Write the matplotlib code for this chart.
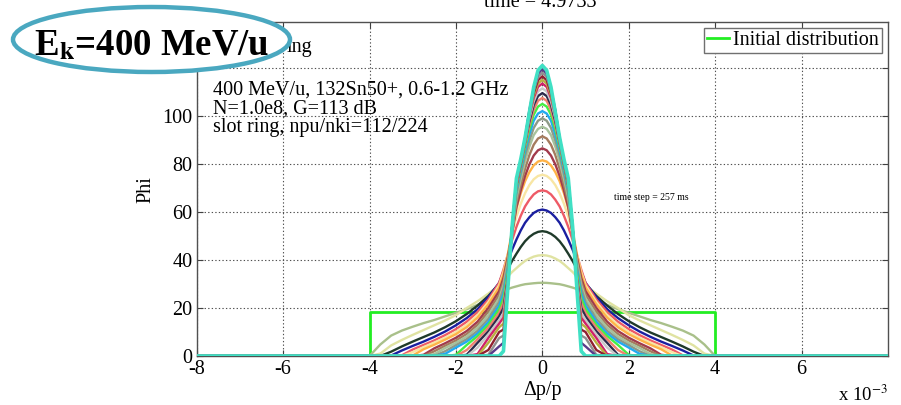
import matplotlib
matplotlib.use('Agg')
import matplotlib.pyplot as plt
from matplotlib.patches import Ellipse

plt.rcParams['font.family'] = ['Liberation Serif', 'DejaVu Serif']
plt.rcParams['mathtext.fontset'] = 'stix'

# ---------------- data (dp/p in units of 1e-3) ----------------
dp_half = [0, 0.1, 0.2, 0.3, 0.4, 0.5, 0.6, 0.7, 0.8, 0.9, 1.0,
           1.25, 1.5, 1.75, 2.0, 2.25, 2.5, 2.75, 3.0, 3.25, 3.5, 3.75, 4.0]

init_x = [-8, -4, -4, 4, 4, 8]
init_y = [0, 0, 18.3, 18.3, 0, 0]

x_ticks = [-8, -6, -4, -2, 0, 2, 4, 6]
y_ticks = [0, 20, 40, 60, 80, 100, 120]
y_tick_labels = ['0', '20', '40', '60', '80', '100', '']

phi_01 = [30.5, 30.45, 30.3, 30.1, 29.9, 29.5, 29.0, 28.5, 27.9, 27.2, 26.3,
          23.8, 21.3, 19.5, 18.0, 16.5, 15.0, 13.7, 12.2, 10.6, 8.5, 4.8, 0]
phi_02 = [42, 41.85, 41.4, 40.6, 39.6, 38.2, 36.6, 35.0, 33.1, 31.2, 29.5,
          26.0, 22.8, 20.0, 17.0, 14.8, 12.8, 10.8, 8.8, 6.7, 4.4, 1.0, 0]
phi_03 = [52, 51.7, 50.9, 49.6, 47.8, 45.4, 42.6, 39.6, 36.3, 33.0, 30.0,
          25.0, 21.0, 17.5, 14.5, 12.0, 9.8, 7.9, 6.0, 4.0, 1.8, 0, 0]
phi_04 = [61, 60.6, 59.6, 57.8, 55.5, 52.3, 48.5, 44.3, 39.6, 35.0, 30.5,
          24.5, 19.5, 15.8, 12.8, 10.2, 8.0, 6.0, 4.2, 2.3, 0.2, 0, 0]
phi_05 = [69, 68.6, 67.3, 65.1, 62.3, 58.4, 53.8, 48.3, 42.2, 36.0, 30.5,
          23.5, 18.3, 14.3, 11.2, 8.7, 6.5, 4.6, 2.7, 0.3, 0, 0, 0]
phi_06 = [75.5, 75.0, 73.6, 71.2, 67.8, 63.4, 58.0, 51.0, 42.5, 35.0, 29.5,
          22.5, 17.0, 13.0, 10.0, 7.6, 5.6, 3.7, 1.6, 0, 0, 0, 0]
phi_07 = [81.5, 81.0, 79.4, 76.6, 72.8, 67.8, 61.5, 52.5, 42.0, 34.0, 28.5,
          21.5, 16.0, 12.0, 9.1, 6.8, 4.7, 2.8, 0.2, 0, 0, 0, 0]
phi_08 = [86.5, 85.7, 83.5, 79.8, 75.0, 69.0, 62.0, 51.0, 41.0, 32.5, 27.0,
          20.0, 14.3, 10.4, 7.6, 5.3, 3.2, 0.5, 0, 0, 0, 0, 0]
phi_09 = [91.5, 90.6, 88.0, 83.7, 78.0, 71.3, 64.0, 51.5, 40.0, 31.0, 25.5,
          18.5, 13.0, 9.2, 6.5, 4.3, 2.0, 0, 0, 0, 0, 0, 0]
phi_10 = [95.5, 94.6, 92.0, 87.2, 81.0, 73.8, 66.0, 52.0, 39.0, 29.5, 24.0,
          17.0, 11.8, 8.1, 5.5, 3.3, 0.8, 0, 0, 0, 0, 0, 0]
phi_11 = [99, 98, 95, 89.8, 83.5, 75.8, 67.5, 52.5, 37.5, 28.0, 22.5,
          15.5, 10.5, 7.0, 4.5, 2.0, 0, 0, 0, 0, 0, 0, 0]
phi_12 = [102, 101, 98, 92.3, 85.5, 77.5, 69, 52.5, 36, 26, 21,
          14.2, 9.4, 6.0, 3.5, 0.9, 0, 0, 0, 0, 0, 0, 0]
phi_13 = [105, 103.9, 100.5, 94.5, 87, 78.8, 70, 53, 34.5, 24, 19.5,
          13, 8.3, 4.6, 0.5, 0, 0, 0, 0, 0, 0, 0, 0]
phi_14 = [107.5, 106.3, 102.5, 96.2, 88, 79.5, 70.5, 53, 33, 22, 18,
          11.8, 7.0, 2.5, 0, 0, 0, 0, 0, 0, 0, 0, 0]
phi_15 = [109.5, 108.3, 104.5, 97.8, 89, 80, 71, 53.2, 32, 20, 16.5,
          10.3, 5.5, 0.5, 0, 0, 0, 0, 0, 0, 0, 0, 0]
phi_16 = [111.5, 110.2, 106, 99.0, 89.5, 80.3, 71.5, 53.4, 31, 18, 15,
          9.0, 3.5, 0, 0, 0, 0, 0, 0, 0, 0, 0, 0]
phi_17 = [113.5, 112.1, 107.5, 100, 90, 80.5, 72, 53.5, 30, 16, 13.5,
          7.5, 0.8, 0, 0, 0, 0, 0, 0, 0, 0, 0, 0]
phi_18 = [115, 113.5, 108.5, 100.8, 90.3, 80.7, 72.5, 53.6, 29.5, 13.5, 12,
          5.5, 0, 0, 0, 0, 0, 0, 0, 0, 0, 0, 0]
phi_19 = [116.5, 114.9, 109.5, 101.5, 90.5, 80.8, 73, 53.7, 29, 11, 10,
          2.5, 0, 0, 0, 0, 0, 0, 0, 0, 0, 0, 0]
phi_20 = [118, 116.3, 110.5, 102, 90.7, 81, 73, 53.8, 28.5, 8.5, 7.5,
          0.5, 0, 0, 0, 0, 0, 0, 0, 0, 0, 0, 0]
phi_21 = [119.5, 117.6, 111.3, 102.5, 90.8, 81.5, 73.5, 53.9, 28.5, 5.5, 4,
          0, 0, 0, 0, 0, 0, 0, 0, 0, 0, 0, 0]
phi_22 = [121, 119, 112, 101.5, 91, 82, 74, 54, 28, 2, 0,
          0, 0, 0, 0, 0, 0, 0, 0, 0, 0, 0, 0]

curves = [phi_01, phi_02, phi_03, phi_04, phi_05, phi_06, phi_07, phi_08,
          phi_09, phi_10, phi_11, phi_12, phi_13, phi_14, phi_15, phi_16,
          phi_17, phi_18, phi_19, phi_20, phi_21, phi_22]

curve_colors = ['#a9c08a', '#e0e3a2', '#1f3a2a', '#1a1fa0', '#ee5a66',
                '#f8e6a4', '#ffb347', '#a23a4c', '#a57b5e', '#a7c29c',
                '#8d9a86', '#22aaf0', '#44ee44', '#f0806e', '#2e2a4c',
                '#c8c8c8', '#d0206a', '#b8b040', '#902030', '#909090',
                '#5a3a8a', '#40e0c4']

# ---------------- figure ----------------
W, H = 901, 405
fig = plt.figure(figsize=(W / 100, H / 100), dpi=100)


def fp(x, y):
    return (x / W, 1 - y / H)


ax = fig.add_axes([196.7 / W, 1 - 356 / H, (888 - 196.7) / W, (356 - 22.3) / H])

ax.plot(init_x, init_y, color='#22ee22', lw=2.0, label='Initial distribution', zorder=2)

full_x = [-8] + [-v for v in reversed(dp_half)] + dp_half[1:] + [8]
for i, (yv, c) in enumerate(zip(curves, curve_colors)):
    full_y = [0] + list(reversed(yv)) + yv[1:] + [0]
    lw = 2.6 if i == len(curves) - 1 else 1.7
    ax.plot(full_x, full_y, color=c, lw=lw, zorder=3 + i,
            solid_joinstyle='round')

ax.set_xlim(-8, 8)
ax.set_ylim(0, 139)
ax.set_xticks(x_ticks)
ax.set_xticklabels([str(t) for t in x_ticks])
ax.set_yticks(y_ticks)
ax.set_yticklabels(y_tick_labels)
ax.tick_params(direction='in', length=4, width=0.8, labelsize=14.5, color='#404040',
               top=True, right=True, pad=3)
ax.grid(True, linestyle=(0, (1.2, 2.0)), color='#505050', lw=0.8)
for s in ax.spines.values():
    s.set_color('#505050')
    s.set_linewidth(1.0)

ax.set_xlabel('Δp/p', fontsize=14.5, labelpad=1)
ax.set_ylabel('Phi', fontsize=14.5, labelpad=5)

leg = ax.legend(loc='upper right', fontsize=14.5, frameon=True, fancybox=False,
                edgecolor='#707070', framealpha=1, borderaxespad=0.3,
                handlelength=1.1, handletextpad=0.2, borderpad=0.15)
leg.get_frame().set_linewidth(1.0)

# texts
fig.text(*fp(540, 7), 'time = 4.9733', fontsize=14.5, ha='center', va='baseline')
fig.text(*fp(213, 95), '400 MeV/u, 132Sn50+, 0.6-1.2 GHz', fontsize=14.5, va='baseline')
fig.text(*fp(213, 113.5), 'N=1.0e8, G=113 dB', fontsize=14.5, va='baseline')
fig.text(*fp(213, 132), 'slot ring, npu/nki=112/224', fontsize=14.5, va='baseline')
fig.text(*fp(651, 197), 'time step = 257 ms', fontsize=7, ha='center', va='center')
fig.text(*fp(287, 52), 'ing', fontsize=14.5, va='baseline')
fig.text(*fp(838, 401), r'x 10$^{-3}$', fontsize=13.5, va='baseline')

ell = Ellipse(fp(151.5, 39.5), 277 / W, 65 / H, transform=fig.transFigure,
              facecolor='white', edgecolor='#4aa8c0', lw=3.2, zorder=10)
fig.add_artist(ell)
fig.text(*fp(151.5, 55), r'E$_\mathbf{k}$=400 MeV/u', fontsize=26.5, fontweight='bold',
         ha='center', va='baseline', zorder=11)

fig.savefig('out.png', dpi=100)
